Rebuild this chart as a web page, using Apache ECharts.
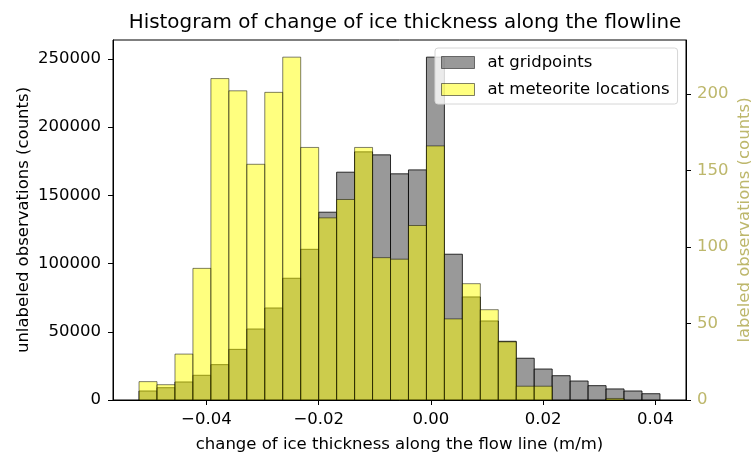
<!DOCTYPE html>
<html>
<head>
<meta charset="utf-8">
<script src="https://cdn.jsdelivr.net/npm/echarts@6/dist/echarts.min.js"></script>
<style>
  html, body { margin: 0; padding: 0; background: #fff; }
  #chart { width: 751px; height: 453px; }
</style>
</head>
<body>
<div id="chart"></div>
<script>
// Histogram bin edges (m/m), shared by both distributions
const binEdges = [
  -0.0520, -0.0488, -0.0456, -0.0424, -0.0392, -0.0360, -0.0328, -0.0296,
  -0.0264, -0.0232, -0.0200, -0.0168, -0.0136, -0.0104, -0.0072, -0.0040,
  -0.0008, 0.0024, 0.0056, 0.0088, 0.0120, 0.0152, 0.0184, 0.0216,
  0.0248, 0.0280, 0.0312, 0.0344, 0.0376, 0.0408
];

// Counts per bin, unlabeled observations at gridpoints (left axis)
const gridpointCounts = [
  6600, 9000, 13200, 18100, 25900, 37100, 52000, 67400, 89200, 110400,
  137600, 166900, 181800, 179600, 165700, 168600, 251200, 106800, 75500, 57900,
  43000, 30600, 22700, 17800, 13900, 10500, 8100, 6600, 4600
];

// Counts per bin, labeled observations at meteorite locations (right axis)
const meteoriteCounts = [
  12, 10, 30, 86, 210, 202, 154, 201, 224, 165,
  119, 131, 165, 93, 92, 114, 166, 53, 76, 59,
  38, 9, 9, 0, 0, 0, 1, 0, 0
];

const xTicks = [-0.04, -0.02, 0.0, 0.02, 0.04];
const leftTicks = [0, 50000, 100000, 150000, 200000, 250000];
const rightTicks = [0, 50, 100, 150, 200];

const seriesNames = ['at gridpoints', 'at meteorite locations'];

const FONT = 'DejaVu Sans';
const FS = 16.5;
const KHAKI = '#bdb76b';

function toBins(counts) {
  return counts.map((c, i) => [binEdges[i], binEdges[i + 1], c]);
}

function barRenderer(fill, alpha) {
  return function (params, api) {
    const lo = api.value(0), hi = api.value(1), count = api.value(2);
    if (!count) return null;
    const p0 = api.coord([lo, count]);
    const p1 = api.coord([hi, 0]);
    return {
      type: 'rect',
      shape: { x: p0[0], y: p0[1], width: p1[0] - p0[0], height: p1[1] - p0[1] },
      style: { fill: fill, stroke: '#000', lineWidth: 1, opacity: alpha }
    };
  };
}

// Data range padded by 5% on each side for the x extent
const xLo = binEdges[0], xHi = binEdges[binEdges.length - 1];
const xPad = (xHi - xLo) * 0.05;

const chart = echarts.init(document.getElementById('chart'), null, { renderer: 'canvas' });

chart.setOption({
  animation: false,
  backgroundColor: '#fff',
  textStyle: { fontFamily: FONT },
  title: {
    text: 'Histogram of change of ice thickness along the flowline',
    left: 400,
    textAlign: 'center',
    top: 8,
    textStyle: { fontFamily: FONT, fontSize: 19.9, fontWeight: 'normal', color: '#000' }
  },
  grid: {
    left: 113, right: 65, top: 40, bottom: 53,
    outerBoundsMode: 'none',
    containLabel: false,
    show: true, borderColor: '#000', borderWidth: 1, backgroundColor: 'transparent'
  },
  legend: {
    orient: 'vertical',
    left: 435,
    top: 48,
    itemWidth: 33,
    itemHeight: 12,
    itemGap: 10,
    padding: [6, 8, 6, 6],
    backgroundColor: 'rgba(255,255,255,0.8)',
    borderColor: '#d6d6d6',
    borderWidth: 1,
    borderRadius: 3,
    z: 10,
    textStyle: { fontFamily: FONT, fontSize: FS, color: '#000', padding: [0, 0, 0, 8] },
    data: [
      { name: seriesNames[0], icon: 'rect',
        itemStyle: { color: 'rgba(128,128,128,0.8)', borderColor: 'rgba(0,0,0,0.5)', borderWidth: 1 } },
      { name: seriesNames[1], icon: 'rect',
        itemStyle: { color: 'rgba(255,255,0,0.5)', borderColor: 'rgba(0,0,0,0.5)', borderWidth: 1 } }
    ]
  },
  xAxis: {
    type: 'value',
    min: xLo - xPad,
    max: xHi + xPad,
    name: 'change of ice thickness along the flow line (m/m)',
    nameLocation: 'middle',
    nameGap: 36,
    nameMoveOverlap: false,
    nameTextStyle: { fontFamily: FONT, fontSize: FS, color: '#000' },
    axisLine: { show: true, onZero: false, lineStyle: { color: '#000', width: 1 } },
    axisTick: { show: true, length: 5, customValues: xTicks, lineStyle: { color: '#000' } },
    axisLabel: {
      customValues: xTicks, margin: 11, fontFamily: FONT, fontSize: FS, color: '#000',
      formatter: v => (v < 0 ? '\u2212' : '') + Math.abs(v).toFixed(2)
    },
    splitLine: { show: false }
  },
  yAxis: [
    {
      type: 'value',
      position: 'left',
      min: 0,
      max: Math.max(...gridpointCounts) * 1.05,
      name: 'unlabeled observations (counts)',
      nameLocation: 'middle',
      nameGap: 81,
      nameMoveOverlap: false,
      nameTextStyle: { fontFamily: FONT, fontSize: FS, color: '#000' },
      axisLine: { show: true, onZero: false, lineStyle: { color: '#000', width: 1 } },
      axisTick: { show: true, length: 5, customValues: leftTicks, lineStyle: { color: '#000' } },
      axisLabel: {
        customValues: leftTicks, margin: 12, fontFamily: FONT, fontSize: FS, color: '#000',
        formatter: v => String(Math.round(v))
      },
      splitLine: { show: false }
    },
    {
      type: 'value',
      position: 'right',
      min: 0,
      max: Math.max(...meteoriteCounts) * 1.05,
      name: 'labeled observations (counts)',
      nameLocation: 'middle',
      nameGap: 50,
      nameMoveOverlap: false,
      nameTextStyle: { fontFamily: FONT, fontSize: FS, color: KHAKI },
      axisLine: { show: true, onZero: false, lineStyle: { color: '#000', width: 1 } },
      axisTick: { show: true, length: 5, customValues: rightTicks, lineStyle: { color: '#000' } },
      axisLabel: {
        customValues: rightTicks, margin: 11, fontFamily: FONT, fontSize: FS, color: KHAKI,
        formatter: v => String(Math.round(v))
      },
      splitLine: { show: false }
    }
  ],
  series: [
    {
      name: seriesNames[0],
      type: 'custom',
      xAxisIndex: 0,
      yAxisIndex: 0,
      encode: { x: [0, 1], y: 2 },
      itemStyle: { color: 'rgba(128,128,128,0.8)' },
      renderItem: barRenderer('#808080', 0.8),
      data: toBins(gridpointCounts),
      z: 2
    },
    {
      name: seriesNames[1],
      type: 'custom',
      xAxisIndex: 0,
      yAxisIndex: 1,
      encode: { x: [0, 1], y: 2 },
      itemStyle: { color: 'rgba(255,255,0,0.5)' },
      renderItem: barRenderer('#ffff00', 0.5),
      data: toBins(meteoriteCounts),
      z: 3
    }
  ]
});
</script>
</body>
</html>
